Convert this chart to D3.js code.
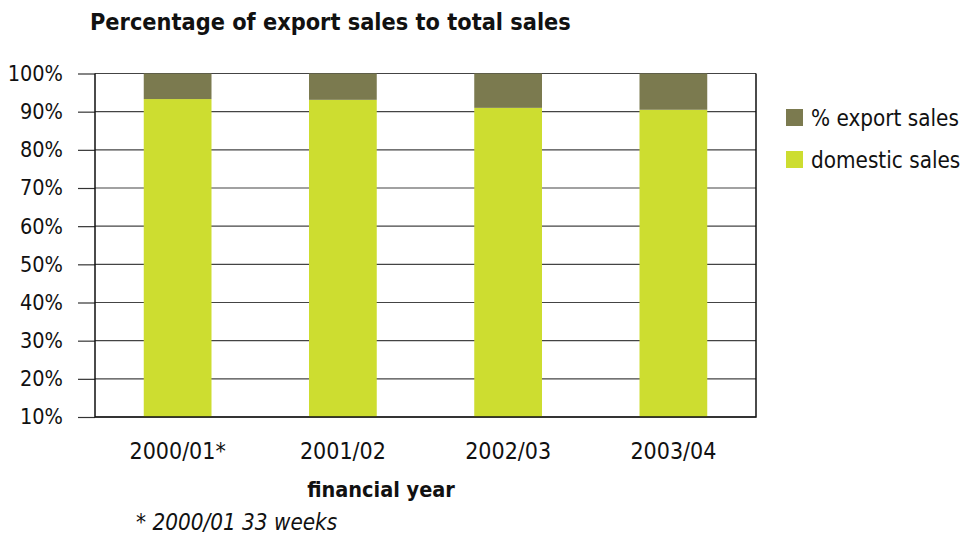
<!DOCTYPE html>
<html><head><meta charset="utf-8">
<script src="https://cdn.jsdelivr.net/npm/d3@7"></script>
<style>
body{margin:0;background:#fff;}
text{font-family:"DejaVu Sans Condensed","Liberation Sans Narrow",sans-serif;fill:#111;}
</style></head><body>
<svg id="c" width="964" height="535"></svg>
<script>
const categories = ["2000/01*", "2001/02", "2002/03", "2003/04"];
const domestic = [93.3, 93.1, 91.0, 90.5];
const exportSales = [6.7, 6.9, 9.0, 9.5];
const yTicks = [10, 20, 30, 40, 50, 60, 70, 80, 90, 100];
const seriesNames = ["% export sales", "domestic sales"];
const colors = {"% export sales": "#7b7a4f", "domestic sales": "#cddd30"};

const FONT = '"DejaVu Sans Condensed","Liberation Sans Narrow",sans-serif';
const svg = d3.select("#c");
const L = 95, R = 756, T = 73.5, B = 417;
const x = d3.scaleBand().domain(categories).range([L, R]).paddingInner(0.59).paddingOuter(0.295);
const y = d3.scaleLinear().domain([10, 100]).range([B, T]).clamp(true);

// gridlines
svg.append("g").selectAll("line").data(yTicks).join("line")
  .attr("x1", L).attr("x2", R).attr("y1", d => y(d)).attr("y2", d => y(d))
  .attr("stroke", "#444").attr("stroke-width", 1.2);

// bars
const rows = categories.map((c, i) => ({cat: c, dom: domestic[i], exp: exportSales[i]}));
const g = svg.append("g");
g.selectAll("rect.dom").data(rows).join("rect")
  .attr("x", d => x(d.cat)).attr("width", x.bandwidth())
  .attr("y", d => y(d.dom)).attr("height", d => y(0) - y(d.dom))
  .attr("fill", colors["domestic sales"]);
g.selectAll("rect.exp").data(rows).join("rect")
  .attr("x", d => x(d.cat)).attr("width", x.bandwidth())
  .attr("y", d => y(d.dom + d.exp)).attr("height", d => y(d.dom) - y(d.dom + d.exp))
  .attr("fill", colors["% export sales"]);

// y axis
const ya = svg.append("g").attr("transform", `translate(${L},0)`)
  .call(d3.axisLeft(y).tickValues(yTicks).tickFormat(d => d + "%").tickSize(17).tickPadding(15));
ya.select(".domain").remove();
ya.selectAll(".tick line").attr("stroke", "#333").attr("stroke-width", 1.2);
ya.selectAll(".tick text").attr("font-size", 21.5).style("font-family", FONT).attr("fill", "#111");

// frame left/right/bottom
svg.append("path").attr("d", `M${L},${T}V${B}H${R}V${T}`).attr("fill", "none").attr("stroke", "#111").attr("stroke-width", 1.5);

// x labels
const xa = svg.append("g").attr("transform", `translate(0,${B})`)
  .call(d3.axisBottom(x).tickSize(0).tickPadding(26));
xa.select(".domain").remove();
xa.selectAll(".tick text").attr("font-size", 23).style("font-family", FONT).attr("fill", "#111");

// titles
svg.append("text").attr("x", 90).attr("y", 30).attr("font-size", 23.3).attr("font-weight", "bold").text("Percentage of export sales to total sales");
svg.append("text").attr("x", 381).attr("y", 497).attr("text-anchor", "middle").attr("font-size", 21.5).attr("font-weight", "bold").text("financial year");
svg.append("text").attr("x", 136).attr("y", 530).attr("font-size", 22.3).attr("font-style", "italic").text("* 2000/01 33 weeks");

// legend
const lg = svg.append("g").selectAll("g").data(seriesNames).join("g")
  .attr("transform", (d, i) => `translate(786,${109 + i * 42})`);
lg.append("rect").attr("width", 17).attr("height", 17).attr("fill", d => colors[d]);
lg.append("text").attr("x", 25).attr("y", 17).attr("font-size", 22.3).text(d => d);
</script></body></html>
